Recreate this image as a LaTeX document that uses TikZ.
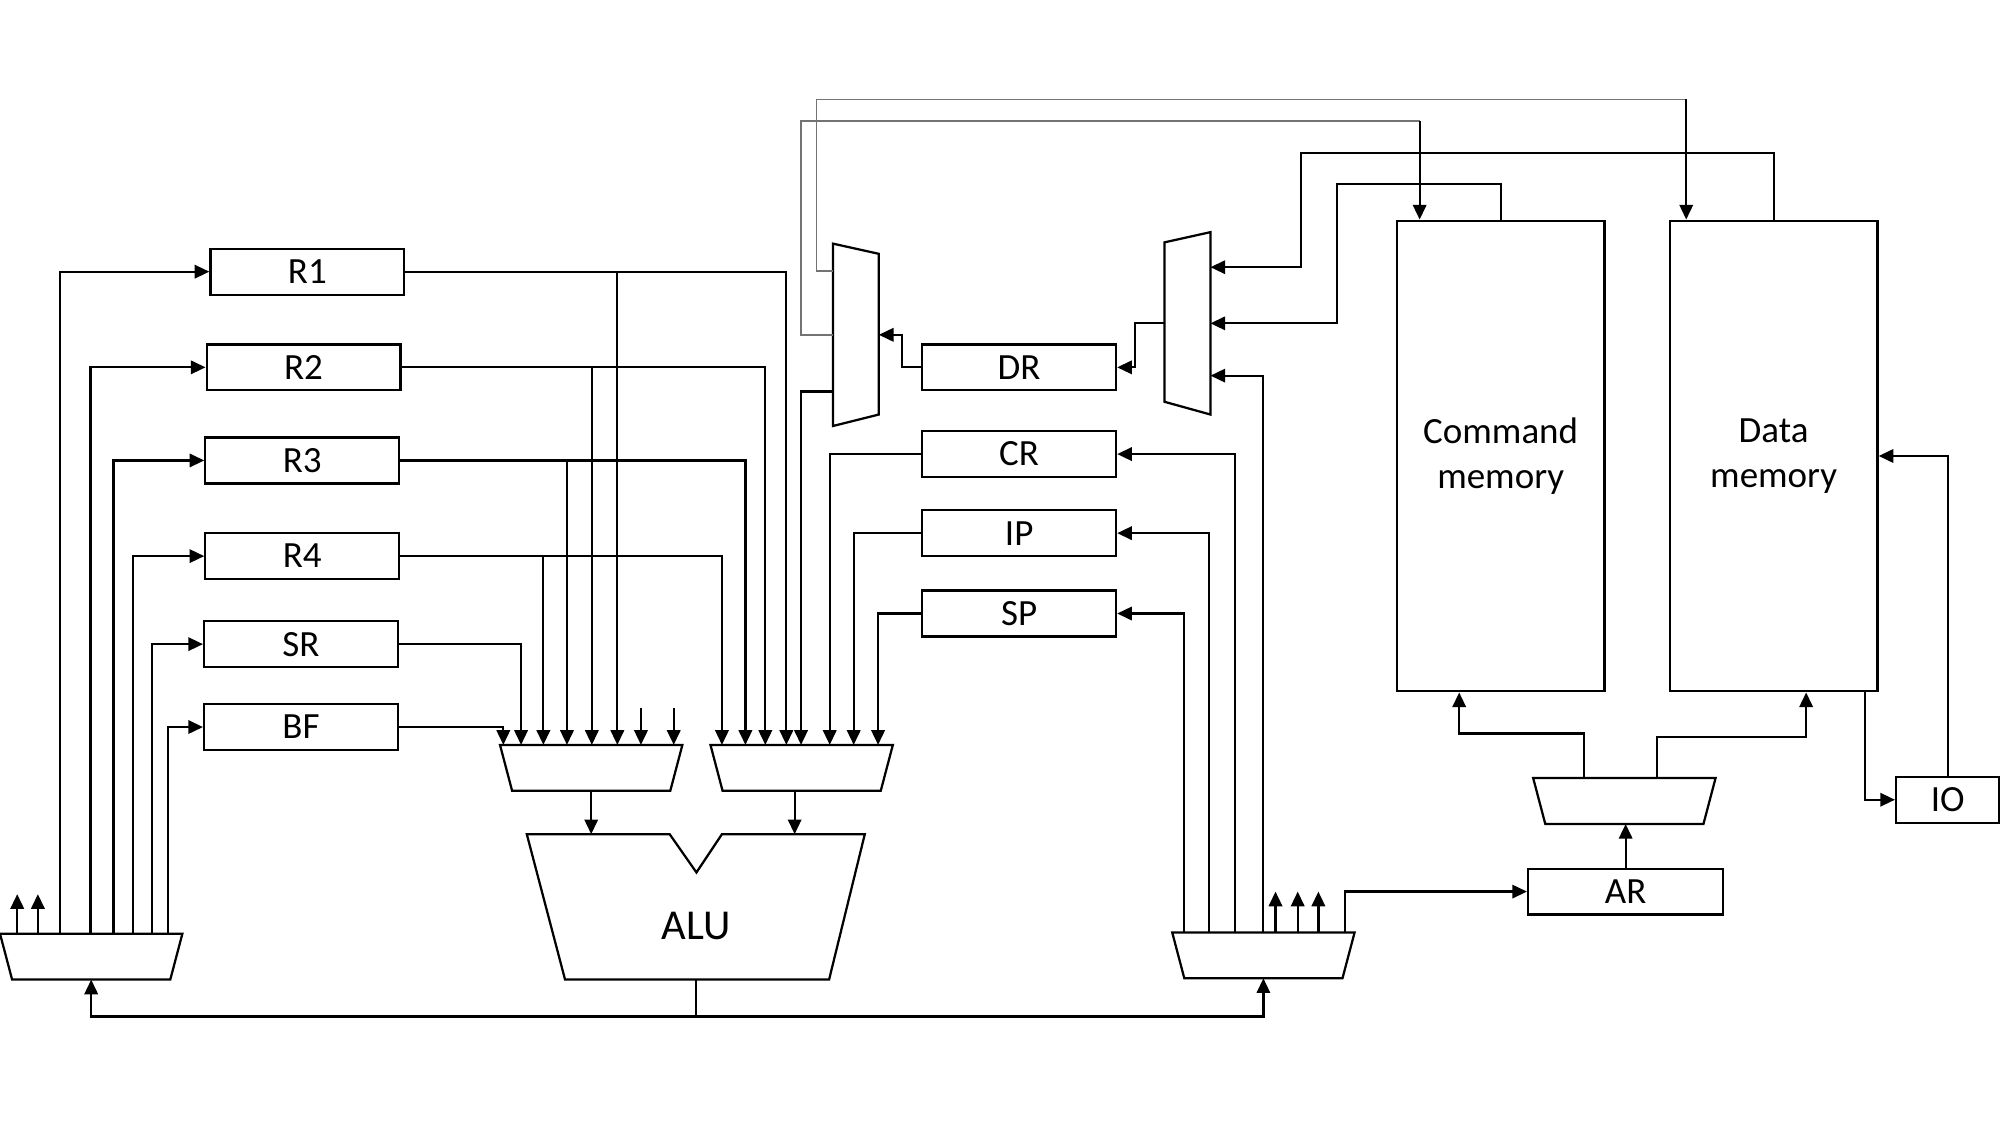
\documentclass[tikz,border=0pt]{standalone}
\usepackage{fontspec}
\setmainfont{Carlito}
\usetikzlibrary{arrows.meta,positioning,calc}

\tikzset{
	reg/.style={draw,line width=1pt,minimum width=30.4mm,minimum height=7.2mm,inner sep=0pt,font=\fontsize{16.5}{19}\selectfont},
	mem/.style={draw,line width=1pt,minimum width=32.6mm,minimum height=73.8mm,inner sep=0pt,align=center,font=\fontsize{16.5}{20}\selectfont},
	muxbox/.style={inner sep=0pt,outer sep=0pt,minimum width=28.6mm,minimum height=7.2mm},
	vmuxbox/.style={inner sep=0pt,outer sep=0pt,minimum width=7.2mm,minimum height=28.6mm},
	wire/.style={line width=1pt},
	fwire/.style={wire,-{Triangle[length=2.3mm,width=2.1mm]}},
	hair/.style={line width=0.7pt,black!55}
}

\begin{document}
\begin{tikzpicture}[x=0.2mm,y=-0.2mm]
	\useasboundingbox (0,0) rectangle (1568,882);

	\node[reg] (R1) at (241,213) {R1};
	\node[reg] (R2) at (238,288) {R2};
	\node[reg] (R3) at (237,361) {R3};
	\node[reg] (R4) at (237,436) {R4};
	\node[reg] (SR) at (236,505) {SR};
	\node[reg] (BF) at (236,570) {BF};

	\node[reg] (DR) at (799,288) {DR};
	\node[reg] (CR) at (799,356) {CR};
	\node[reg] (IP) at (799,418) {IP};
	\node[reg] (SP) at (799,481) {SP};

	\node[mem] (CM) at (1176.5,357.5) {Command\\memory};
	\node[mem] (DM) at (1390.5,357.5) {Data\\memory};
	\node[reg,minimum width=16.2mm] (IO) at (1527,627) {IO};
	\node[reg,minimum width=30.6mm] (AR) at (1274.5,699) {AR};

	\node[muxbox] (muxL) at (71.5,750) {};
	\node[muxbox] (muxA) at (463.5,602) {};
	\node[muxbox] (muxB) at (628.5,602) {};
	\node[muxbox] (muxR) at (990.5,749) {};
	\node[muxbox] (muxAR) at (1273.5,628) {};
	\node[vmuxbox] (M1) at (671,262.5) {};
	\node[vmuxbox] (M2) at (931,253.5) {};
	\node[inner sep=0pt,outer sep=0pt,minimum width=53mm,minimum height=22.8mm] (ALU) at (545.5,711) {};
	\node[font=\fontsize{19}{22}\selectfont] (alulabel) at (546,726) {ALU};

	\foreach \m in {muxL,muxA,muxB,muxR,muxAR}
		\draw[wire] (\m.north west) -- (\m.north east) -- ($(\m.south east)+(-9.5,0)$) -- ($(\m.south west)+(9.5,0)$) -- cycle;
	\draw[wire] (M1.north west) -- ($(M1.north east)+(0,8)$) -- ($(M1.south east)+(0,-9)$) -- (M1.south west) -- cycle;
	\draw[wire] ($(M2.north west)+(0,8)$) -- (M2.north east) -- (M2.south east) -- ($(M2.south west)+(0,-10)$) -- cycle;
	\draw[wire] (ALU.north west) -- ++(112,0) -- ($(ALU.north)+(0.5,30)$) -- ($(ALU.north east)+(-112,0)$) -- (ALU.north east) -- ($(ALU.south east)+(-28,0)$) -- ($(ALU.south west)+(30,0)$) -- cycle;

	% write back into the registers
	\foreach \r/\x in {R1/47,R2/71,R3/89,R4/104,SR/119,BF/132}
		\draw[fwire] (muxL.north -| \x,0) |- (\r.west);
	\foreach \x in {13.5,29.7}
		\draw[fwire] (muxL.north -| \x,0) -- ++(0,-31);

	% registers to the ALU inputs
	\foreach \r/\xa/\xb in {R1/484/616.5,R2/464/600,R3/444.5/584.4,R4/426/566}{
		\draw[fwire] (\r.east -| \xa,0) -- (muxA.north -| \xa,0);
		\draw[fwire] (\r.east) -| (muxB.north -| \xb,0);
	}
	\draw[fwire] (SR.east) -| (muxA.north -| 408.5,0);
	\draw[fwire] (BF.east) -| (muxA.north -| 394.6,0);
	\foreach \x in {502.5,528.2}
		\draw[fwire] ($(muxA.north -| \x,0)+(0,-29)$) -- (muxA.north -| \x,0);
	\draw[fwire] ($(M1.west)+(0,44.5)$) -| (muxB.north -| 628,0);
	\draw[fwire] (CR.west) -| (muxB.north -| 650.5,0);
	\draw[fwire] (IP.west) -| (muxB.north -| 669.3,0);
	\draw[fwire] (SP.west) -| (muxB.north -| 688.4,0);

	\draw[fwire] (muxA.south) -- (muxA.south |- ALU.north);
	\draw[fwire] (muxB.south -| 623,0) -- (ALU.north -| 623,0);

	% result bus
	\coordinate (bus) at (ALU.south |- 0,797);
	\draw[wire] (ALU.south) -- (bus);
	\draw[fwire] (bus) -| (muxL.south);
	\draw[fwire] (bus) -| (muxR.south);

	\draw[fwire] (muxR.north -| 928,0) |- (SP.east);
	\draw[fwire] (muxR.north -| 948,0) |- (IP.east);
	\draw[fwire] (muxR.north -| 968,0) |- (CR.east);
	\draw[fwire] (muxR.north -| 990,0) |- ($(M2.east)+(0,41)$);
	\foreach \x in {1000,1017.4,1033.6}
		\draw[fwire] (muxR.north -| \x,0) -- ++(0,-32);
	\draw[fwire] (muxR.north -| 1054.5,0) |- (AR.west);

	% memories
	\draw[fwire] (AR.north) -- (AR.north |- muxAR.south);
	\draw[fwire] (muxAR.north -| 1242,0) -- ++(0,-35) -| (CM.south -| 1144,0);
	\draw[fwire] (muxAR.north -| 1299,0) -- ++(0,-32) -| (DM.south -| 1416,0);
	\draw[fwire] (DM.south -| 1462,0) |- (IO.west);
	\draw[fwire] (IO.north) |- (DM.east);

	\draw[fwire] (CM.north) |- (1048,144) |- (M2.east);
	\draw[fwire] (DM.north) |- (1020,120) |- ($(M2.east)+(0,-44)$);
	\draw[fwire] (M2.west) -- ++(-23,0) |- (DR.east);
	\draw[fwire] (DR.west) -- ++(-15,0) |- (M1.east);

	\coordinate (dmtap) at (1322,78);
	\coordinate (cmtap) at (1113,95);
	\draw[hair] ($(M1.west)+(0,-50)$) -| (640,78) -- (dmtap);
	\draw[hair] (M1.west) -| (628,95) -- (cmtap);
	\draw[fwire] (dmtap) -- (DM.north -| dmtap);
	\draw[fwire] (cmtap) -- (CM.north -| cmtap);

\end{tikzpicture}
\end{document}
